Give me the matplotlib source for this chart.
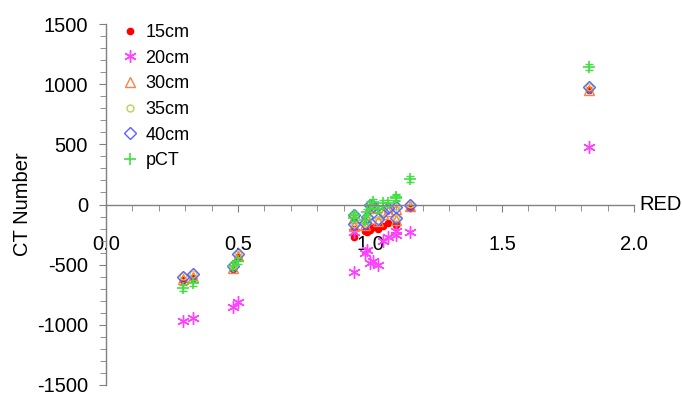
import numpy as np
import matplotlib
matplotlib.use("Agg")
import matplotlib.pyplot as plt
from matplotlib.ticker import MultipleLocator

plt.rcParams['font.family'] = ['Liberation Sans', 'DejaVu Sans']
plt.rcParams['axes.unicode_minus'] = False

# relative electron density of the phantom inserts
red = [0.29, 0.33, 0.48, 0.50, 0.94, 0.94, 0.98, 0.99, 1.00, 1.01, 1.03, 1.05, 1.07, 1.10, 1.10, 1.15, 1.83]

# CT numbers per phantom size
ct_15 = [-630, -610, -540, -440, -270, -200, -220, -230, -210, -190, -200, -180, -150, -160, -170, -30, 950]
ct_20 = [-970, -945, -855, -810, -560, -225, -400, -380, -490, -470, -500, -300, -270, -220, -250, -225, 480]
ct_30 = [-620, -600, -530, -430, -110, -180, -170, -120, -15, -30, -140, -80, -50, -35, -130, -15, 955]
ct_35 = [-595, -575, -505, -410, -95, -165, -150, -100, 5, -15, -125, -60, -35, -15, -115, 5, 975]
ct_40 = [-600, -580, -510, -415, -90, -160, -150, -100, 0, -10, -120, -60, -30, -20, -110, 0, 975]
ct_pct = [-690, -655, -515, -470, -90, -110, -130, -60, 0, 20, -40, 10, 15, 50, 60, 210, 1145]
pct_err = [25] * len(red)

fig = plt.figure(figsize=(6.82, 3.94), dpi=100)
ax = fig.add_axes([106/682, 1 - 385/394, (634 - 106)/682, (385 - 24)/394])

ax.plot(red, ct_15, 'o', color='#FF0000', ms=4.5, ls='none', label='15cm')
ax.plot(red, ct_20, marker=(6, 2, 0), color='#FF40FF', ms=9, mew=1, ls='none', label='20cm')
ax.plot(red, ct_30, '^', mfc='none', mec='#FF8040', ms=7, mew=1, ls='none', label='30cm')
ax.plot(red, ct_35, 'o', mfc='none', mec='#C0D050', ms=5, mew=1, ls='none', label='35cm')
ax.plot(red, ct_40, 'D', mfc='none', mec='#6060FF', ms=6.5, mew=1, ls='none', label='40cm')
ax.errorbar(red, ct_pct, yerr=pct_err, fmt='none', ecolor='#40E040', elinewidth=1, capsize=3)
ax.plot(red, ct_pct, '+', color='#40E040', ms=8, mew=1.2, ls='none', label='pCT')

ax.set_xlim(0, 2.0)
ax.set_ylim(-1500, 1500)
ax.spines['top'].set_visible(False)
ax.spines['right'].set_visible(False)
ax.spines['bottom'].set_position(('data', 0))
for s in ['left', 'bottom']:
    ax.spines[s].set_color('#808080')
    ax.spines[s].set_linewidth(1)

ax.xaxis.set_major_locator(MultipleLocator(0.5))
ax.xaxis.set_minor_locator(MultipleLocator(0.1))
ax.yaxis.set_major_locator(MultipleLocator(500))
ax.yaxis.set_minor_locator(MultipleLocator(100))
ax.xaxis.set_major_formatter(plt.FuncFormatter(lambda v, p: f"{v:.1f}"))
ax.tick_params(axis='both', which='both', color='#808080', labelsize=14.5, direction='out')
ax.tick_params(axis='x', which='major', length=5, pad=17)
ax.tick_params(axis='x', which='minor', length=4)
ax.tick_params(axis='y', which='major', length=5, pad=8)
ax.tick_params(axis='y', which='minor', length=4)

ax.set_ylabel('CT Number', fontsize=14.5)
ax.yaxis.set_label_coords(-0.14, 0.5)
ax.text(2.02, 0, 'RED', fontsize=14.5, va='center', ha='left')

ax.legend(loc='upper left', bbox_to_anchor=(121/682, 1 - 24/394), bbox_transform=fig.transFigure,
          frameon=False, fontsize=13, handlelength=1, handletextpad=0.35,
          labelspacing=0.48, borderpad=0, borderaxespad=0)

fig.savefig('out.png', dpi=100)
